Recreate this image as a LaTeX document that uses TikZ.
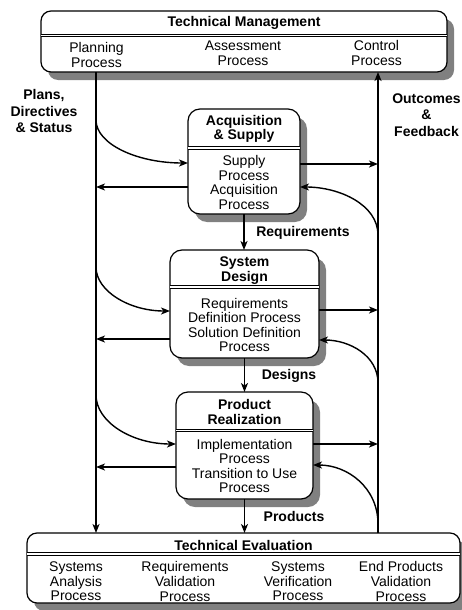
\documentclass[tikz,border=0pt]{standalone}
\usepackage{fontspec}
\setmainfont{Liberation Sans}
\usetikzlibrary{arrows.meta,shadows}
\begin{document}
\begin{tikzpicture}[x=1pt,y=-1pt,
  box/.style={draw, line width=1.2pt, rounded corners=12pt, fill=white, inner sep=0pt, outer sep=0pt,
    drop shadow={shadow xshift=7pt, shadow yshift=-8pt, fill=black!50, opacity=1}},
  divider/.style={line width=1.1pt, double, double distance=1.5pt},
  txt/.style={align=center, inner sep=0pt, font=\fontsize{14}{14.6}\selectfont},
  ttl/.style={align=center, inner sep=0pt, font=\fontsize{14}{14.5}\selectfont\bfseries},
  lbl/.style={align=center, inner sep=0pt, font=\fontsize{14}{16.6}\selectfont\bfseries},
  arr/.style={line width=1.4pt, -{Stealth[length=9pt,width=7pt,inset=2.5pt]}}
]
\useasboundingbox (0,0) rectangle (462,610);
\coordinate (L) at (96,0);
\coordinate (R) at (378,0);

% boxes
\node[box, rounded corners=10pt, minimum width=406pt, minimum height=61pt] (tm) at (244,41.5) {};
\node[box, minimum width=112pt, minimum height=105pt] (acq) at (244,161.5) {};
\node[box, minimum width=149pt, minimum height=108pt] (sd) at (244.5,304) {};
\node[box, minimum width=137pt, minimum height=107pt] (pr) at (244.5,445.5) {};
\node[box, rounded corners=10pt, minimum width=433pt, minimum height=70pt] (te) at (243.5,568) {};

% dividers
\draw[divider] (tm.west |- 0,35.5) -- (tm.east |- 0,35.5);
\draw[divider] (acq.west |- 0,148) -- (acq.east |- 0,148);
\draw[divider] (sd.west |- 0,287) -- (sd.east |- 0,287);
\draw[divider] (pr.west |- 0,430.5) -- (pr.east |- 0,430.5);
\draw[divider] (te.west |- 0,554) -- (te.east |- 0,554);

% texts
\node[ttl] (tmT) at (244,23) {Technical Management};
\node[txt] (plan) at (96.5,55) {Planning\\Process};
\node[txt] (asse) at (243,53) {Assessment\\Process};
\node[txt] (ctrl) at (376.5,53) {Control\\Process};

\node[ttl] (acqT) at (244,129) {Acquisition\\\& Supply};
\node[txt] (acqB) at (244,182.5) {Supply\\Process\\Acquisition\\Process};

\node[ttl] (sdT) at (244.5,270.5) {System\\Design};
\node[txt] (sdB) at (244.5,325) {Requirements\\Definition Process\\Solution Definition\\Process};

\node[ttl] (prT) at (244.5,412) {Product\\Realization};
\node[txt] (prB) at (244.5,466) {Implementation\\Process\\Transition to Use\\Process};

\node[ttl] (teT) at (243.5,545) {Technical Evaluation};
\node[txt] (te1) at (76,581.5) {Systems\\Analysis\\Process};
\node[txt] (te2) at (185,581.5) {Requirements\\Validation\\Process};
\node[txt] (te3) at (298,581.5) {Systems\\Verification\\Process};
\node[txt] (te4) at (401,581.5) {End Products\\Validation\\Process};

\node[lbl] (plans) at (44,111) {Plans,\\Directives\\\& Status};
\node[lbl] (outc) at (426.5,115) {Outcomes\\\&\\Feedback};
\node[lbl] (reqL) at (303,233) {Requirements};
\node[lbl] (desL) at (289,376) {Designs};
\node[lbl] (proL) at (294,516) {Products};

% main vertical lines
\draw[arr] (tm.south -| L) -- (te.north -| L);
\draw[arr] (te.north -| R) -- (tm.south -| R);

% down arrows
\draw[arr] (acq.south) -- (acq.south |- sd.north);
\draw[arr] (sd.south) -- (sd.south |- pr.north);
\draw[arr] (pr.south) -- (pr.south |- te.north);

% acquisition
\coordinate (a1) at (96,120);
\coordinate (a2) at (378,235);
\draw[arr] (a1) .. controls +(0,24) and +(-51,0) .. (acq.west |- 0,163);
\draw[arr] (acq.west |- 0,187) -- (L |- 0,187);
\draw[arr] (acq.east |- 0,164) -- (R |- 0,164);
\draw[arr] (a2) .. controls +(0,-30) and +(40,0) .. (acq.east |- 0,187);

% system design
\coordinate (s1) at (96,267);
\coordinate (s2) at (378,383);
\draw[arr] (s1) .. controls +(0,24) and +(-41,0) .. (sd.west |- 0,311);
\draw[arr] (sd.west |- 0,339) -- (L |- 0,339);
\draw[arr] (sd.east |- 0,310) -- (R |- 0,310);
\draw[arr] (s2) .. controls +(0,-27) and +(31,0) .. (sd.east |- 0,340);

% product realization
\coordinate (p1) at (96,395);
\coordinate (p2) at (378,524);
\draw[arr] (p1) .. controls +(0,27) and +(-44,0) .. (pr.west |- 0,444);
\draw[arr] (pr.west |- 0,467) -- (L |- 0,467);
\draw[arr] (pr.east |- 0,444) -- (R |- 0,444);
\draw[arr] (p2) .. controls +(0,-36) and +(35,0) .. (pr.east |- 0,465);
\end{tikzpicture}
\end{document}
